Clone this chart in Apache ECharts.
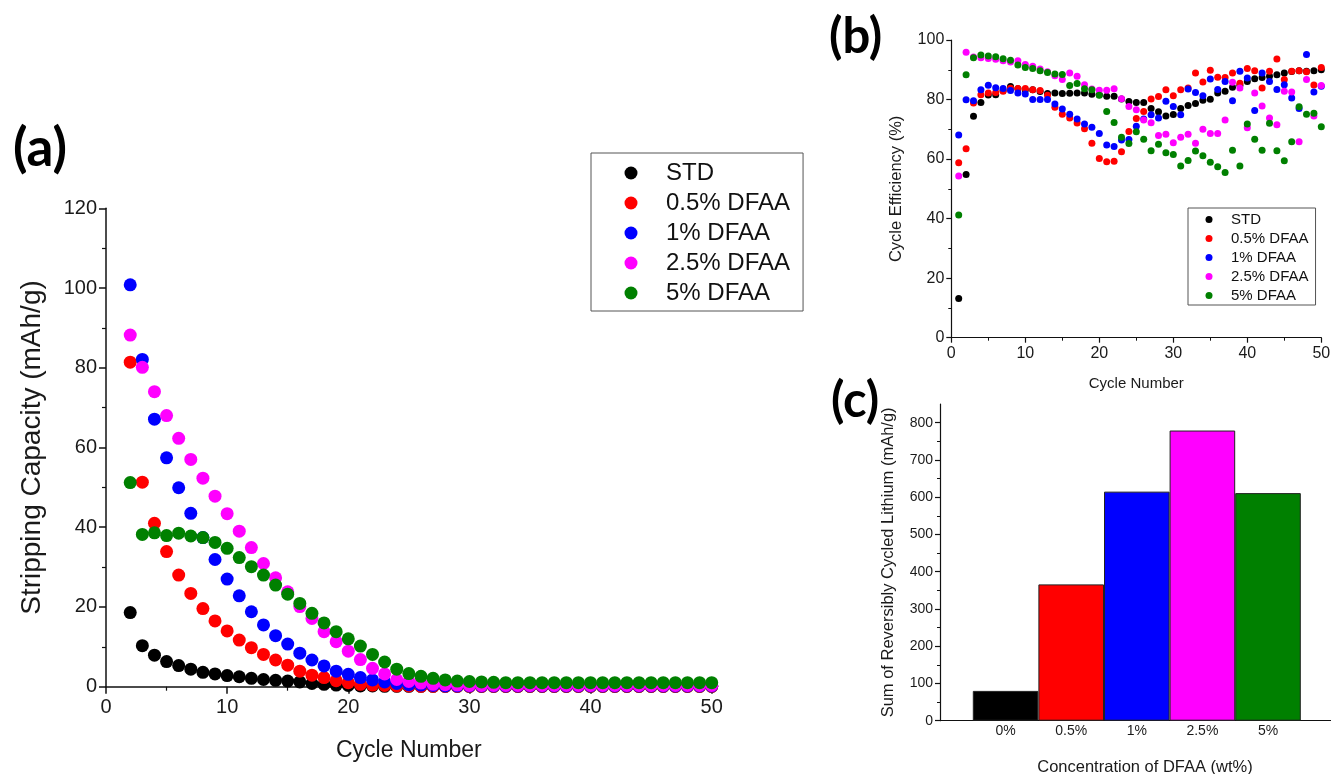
<!DOCTYPE html>
<html>
<head>
<meta charset="utf-8">
<title>DFAA cycling</title>
<script src="https://cdn.jsdelivr.net/npm/echarts@6/dist/echarts.min.js"></script>
<style>
  html, body { margin: 0; padding: 0; background: #fff; }
  #main { width: 1331px; height: 774px; }
</style>
</head>
<body>
<div id="main"></div>
<script>
// ---- series names ----
const seriesNames = ['STD', '0.5% DFAA', '1% DFAA', '2.5% DFAA', '5% DFAA'];

// ---- (a) stripping capacity, cycles 2-50 (mAh/g) ----
const cyclesA = [2, 3, 4, 5, 6, 7, 8, 9, 10, 11, 12, 13, 14, 15, 16, 17, 18, 19, 20, 21, 22, 23, 24, 25, 26,
  27, 28, 29, 30, 31, 32, 33, 34, 35, 36, 37, 38, 39, 40, 41, 42, 43, 44, 45, 46, 47, 48, 49, 50];
const capSTD = [18.6, 10.3, 7.9, 6.3, 5.3, 4.4, 3.6, 3.2, 2.8, 2.5, 2.1, 1.8, 1.6, 1.4, 1.2, 0.8, 0.6, 0.4, 0.3, 0.2,
  0.2, 0.1, 0.1, 0.1, 0.1, 0.1, 0.1, 0.1, 0.1, 0.1, 0.1, 0.1, 0.1, 0.1, 0.1, 0.1, 0.1, 0.1, 0.1, 0.1,
  0.1, 0.1, 0.1, 0.1, 0.1, 0.1, 0.1, 0.1, 0.1];
const cap05 = [81.4, 51.3, 41.0, 33.9, 28.0, 23.4, 19.6, 16.5, 14.0, 11.7, 9.8, 8.1, 6.7, 5.4, 3.9, 2.9, 2.3, 1.5, 1.0, 0.6,
  0.4, 0.3, 0.2, 0.2, 0.1, 0.1, 0.1, 0.1, 0.1, 0.1, 0.1, 0.1, 0.1, 0.1, 0.1, 0.1, 0.1, 0.1, 0.1, 0.1,
  0.1, 0.1, 0.1, 0.1, 0.1, 0.1, 0.1, 0.1, 0.1];
const cap1 = [100.8, 82.1, 67.1, 57.4, 49.9, 43.5, 37.4, 31.9, 27.0, 22.8, 18.8, 15.5, 12.8, 10.7, 8.4, 6.7, 5.2, 3.9, 3.1, 2.3,
  1.7, 1.2, 0.8, 0.5, 0.4, 0.3, 0.2, 0.2, 0.2, 0.2, 0.2, 0.2, 0.2, 0.2, 0.2, 0.2, 0.2, 0.2, 0.2, 0.2,
  0.2, 0.2, 0.2, 0.2, 0.2, 0.2, 0.2, 0.2, 0.2];
const cap25 = [88.2, 80.1, 74.0, 68.0, 62.3, 57.0, 52.3, 47.8, 43.4, 39.0, 34.9, 30.9, 27.3, 23.8, 20.1, 17.1, 13.8, 11.3, 8.9, 6.8,
  4.6, 3.2, 1.8, 1.3, 0.9, 0.6, 0.5, 0.4, 0.3, 0.3, 0.3, 0.3, 0.3, 0.3, 0.3, 0.3, 0.3, 0.3, 0.3, 0.3,
  0.3, 0.3, 0.3, 0.3, 0.3, 0.3, 0.3, 0.3, 0.3];
const cap5 = [51.2, 38.2, 38.6, 37.9, 38.5, 37.8, 37.4, 36.2, 34.7, 32.4, 30.1, 28.0, 25.5, 23.2, 20.9, 18.4, 16.0, 13.8, 12.0, 10.2,
  8.1, 6.2, 4.4, 3.3, 2.6, 2.1, 1.7, 1.4, 1.3, 1.2, 1.1, 1.0, 1.0, 1.0, 1.0, 1.0, 1.0, 1.0, 1.0, 1.0,
  1.0, 1.0, 1.0, 1.0, 1.0, 1.0, 1.0, 1.0, 1.0];

// ---- (b) cycle efficiency, cycles 1-50 (%) ----
const cyclesB = [1, 2, 3, 4, 5, 6, 7, 8, 9, 10, 11, 12, 13, 14, 15, 16, 17, 18, 19, 20, 21, 22, 23, 24, 25,
  26, 27, 28, 29, 30, 31, 32, 33, 34, 35, 36, 37, 38, 39, 40, 41, 42, 43, 44, 45, 46, 47, 48, 49, 50];
const effSTD = [13.2, 54.8, 74.4, 79.0, 81.5, 81.6, 83.0, 84.4, 83.6, 83.2, 83.3, 82.7, 82.0, 82.2, 82.0, 82.1, 82.2, 82.2, 81.8, 81.6,
  81.1, 81.1, 80.2, 79.3, 79.0, 79.0, 77.0, 75.9, 74.5, 75.0, 77.0, 78.0, 78.7, 79.8, 80.1, 82.2, 82.8, 84.1, 84.8, 86.1,
  87.0, 87.4, 87.8, 88.3, 88.9, 89.4, 89.7, 89.5, 89.7, 90.0];
const eff05 = [58.8, 63.5, 78.8, 81.6, 82.2, 82.4, 82.8, 83.8, 83.7, 83.7, 83.3, 83.0, 81.4, 77.4, 75.1, 73.8, 72.1, 70.2, 65.3, 60.2,
  59.1, 59.3, 62.5, 69.3, 73.6, 76.0, 80.2, 81.0, 83.3, 81.3, 83.3, 83.9, 88.9, 85.9, 89.8, 87.5, 87.4, 88.9, 85.5, 90.4,
  89.7, 83.9, 89.5, 93.6, 86.7, 89.5, 89.7, 89.3, 84.9, 90.8];
const eff1 = [68.1, 79.9, 79.6, 83.3, 84.8, 84.0, 83.7, 83.0, 82.2, 81.9, 80.0, 80.0, 80.0, 78.5, 76.8, 75.1, 73.5, 71.8, 70.7, 68.6,
  64.7, 64.2, 66.4, 66.6, 71.0, 73.5, 74.9, 73.8, 79.4, 77.7, 74.9, 83.5, 82.4, 81.3, 86.9, 83.4, 86.1, 79.6, 89.5, 87.2,
  76.3, 88.9, 86.1, 83.4, 85.0, 80.5, 77.0, 95.1, 82.5, 84.5];
const eff25 = [54.3, 95.9, 94.3, 94.0, 93.8, 93.5, 93.0, 92.6, 93.0, 91.8, 91.2, 90.3, 89.3, 88.0, 86.7, 88.9, 87.8, 85.0, 83.5, 83.1,
  83.1, 83.6, 80.3, 77.7, 76.6, 73.1, 72.2, 67.9, 68.3, 65.5, 67.3, 68.3, 65.3, 70.0, 68.6, 68.6, 73.1, 85.8, 83.9, 70.5,
  82.2, 77.8, 73.8, 71.5, 82.8, 82.5, 65.8, 86.7, 74.5, 84.7];
const eff5 = [41.2, 88.3, 94.0, 95.0, 94.6, 94.4, 93.7, 93.2, 91.6, 90.8, 90.4, 89.7, 89.1, 88.6, 88.4, 84.7, 85.4, 83.6, 83.3, 81.4,
  76.0, 72.3, 67.3, 65.2, 69.2, 66.7, 62.8, 65.0, 62.1, 61.5, 57.7, 59.5, 62.7, 61.1, 58.9, 57.4, 55.5, 63.0, 57.7, 71.8,
  66.7, 63.0, 72.0, 62.8, 59.4, 65.8, 77.6, 75.1, 75.4, 70.9];

// ---- (c) sum of reversibly cycled lithium (mAh/g) ----
const concLabels = ['0%', '0.5%', '1%', '2.5%', '5%'];
const concPos = [1, 2, 3, 4, 5];
const sumLithium = [80, 366, 615, 779, 611];

// ---- styling ----
const palette = ['#000000', '#ff0000', '#0000ff', '#ff00ff', '#008000'];
const FONT = '"Liberation Sans", Arial, sans-serif';
const AXIS_COLOR = '#111';

const capData = [capSTD, cap05, cap1, cap25, cap5];
const effData = [effSTD, eff05, eff1, eff25, eff5];

function axisCommon(o) {
  return Object.assign({
    type: 'value',
    splitLine: { show: false },
    axisLine: { show: true, onZero: false, lineStyle: { color: AXIS_COLOR, width: 1.5 } },
    axisTick: { show: true, inside: false, length: 7, lineStyle: { color: AXIS_COLOR, width: 1.5 } },
    minorTick: { show: true, splitNumber: 2, length: 4, lineStyle: { color: AXIS_COLOR, width: 1.2 } },
    nameLocation: 'middle',
    nameMoveOverlap: false
  }, o);
}

const series = [];
seriesNames.forEach((name, i) => {
  series.push({
    name: name, type: 'scatter', xAxisIndex: 0, yAxisIndex: 0,
    symbol: 'circle', symbolSize: 13,
    itemStyle: { color: palette[i], opacity: 1 },
    emphasis: { disabled: true },
    data: cyclesA.map((c, k) => [c, capData[i][k]])
  });
});
seriesNames.forEach((name, i) => {
  series.push({
    name: name, type: 'scatter', xAxisIndex: 1, yAxisIndex: 1,
    symbol: 'circle', symbolSize: 7,
    itemStyle: { color: palette[i], opacity: 1 },
    emphasis: { disabled: true },
    data: cyclesB.map((c, k) => [c, effData[i][k]])
  });
});
series.push({
  name: 'sum', type: 'bar', xAxisIndex: 2, yAxisIndex: 2,
  barWidth: '100%',
  emphasis: { disabled: true },
  data: concPos.map((p, k) => ({
    value: [p, sumLithium[k]],
    itemStyle: { color: palette[k], borderColor: '#222', borderWidth: 1 }
  }))
});

const option = {
  animation: false,
  textStyle: { fontFamily: FONT },
  title: [
    { text: '(a)', left: 8, top: 117, textStyle: { fontFamily: 'Lato', fontWeight: 'bold', fontSize: 53, color: '#000' } },
    { text: '(b)', left: 824, top: 8, textStyle: { fontFamily: 'Lato', fontWeight: 'bold', fontSize: 49, color: '#000' } },
    { text: '(c)', left: 826, top: 372, textStyle: { fontFamily: 'Lato', fontWeight: 'bold', fontSize: 49, color: '#000' } }
  ],
  legend: [
    {
      orient: 'vertical', left: 591, top: 153,
      padding: [8, 13, 6, 33.5],
      itemWidth: 60, itemHeight: 13, itemGap: 6,
      icon: 'circle',
      backgroundColor: '#fff', borderColor: '#555', borderWidth: 1,
      textStyle: { fontSize: 24, color: '#111', fontFamily: FONT },
      selectedMode: false,
      data: seriesNames
    },
    {
      orient: 'vertical', left: 1188, top: 208,
      padding: [4, 7, 2, 17.5],
      itemWidth: 34, itemHeight: 7, itemGap: 4,
      icon: 'circle',
      backgroundColor: '#fff', borderColor: '#555', borderWidth: 1,
      textStyle: { fontSize: 15, color: '#111', fontFamily: FONT },
      selectedMode: false,
      data: seriesNames
    }
  ],
  grid: [
    { left: 106, top: 208.3, width: 605.7, height: 478.4, outerBoundsMode: 'none', containLabel: false },
    { left: 951.3, top: 40, width: 370, height: 297.7, outerBoundsMode: 'none', containLabel: false },
    { left: 940, top: 404.1, width: 410, height: 316.6, outerBoundsMode: 'none', containLabel: false }
  ],
  xAxis: [
    axisCommon({
      gridIndex: 0, min: 0, max: 50, interval: 10,
      axisLabel: { fontSize: 20, color: '#1a1a1a', margin: 11 },
      name: 'Cycle Number', nameGap: 52,
      nameTextStyle: { fontSize: 23, color: '#1a1a1a' }
    }),
    axisCommon({
      gridIndex: 1, min: 0, max: 50, interval: 10,
      axisTick: { show: true, length: 5, lineStyle: { color: AXIS_COLOR, width: 1.2 } },
      minorTick: { show: true, splitNumber: 2, length: 3, lineStyle: { color: AXIS_COLOR, width: 1 } },
      axisLine: { show: true, onZero: false, lineStyle: { color: AXIS_COLOR, width: 1.2 } },
      axisLabel: { fontSize: 16, color: '#1a1a1a', margin: 8 },
      name: 'Cycle Number', nameGap: 39,
      nameTextStyle: { fontSize: 15, color: '#1a1a1a' }
    }),
    axisCommon({
      gridIndex: 2, min: 0, max: 6.25, interval: 1,
      axisTick: { show: false },
      minorTick: { show: false },
      axisLine: { show: true, onZero: false, lineStyle: { color: AXIS_COLOR, width: 1.2 } },
      axisLabel: {
        fontSize: 14, color: '#1a1a1a', margin: 3,
        formatter: v => {
          const k = concPos.indexOf(v);
          return k >= 0 ? concLabels[k] : '';
        }
      },
      name: 'Concentration of DFAA (wt%)', nameGap: 38,
      nameTextStyle: { fontSize: 16.5, color: '#1a1a1a' }
    })
  ],
  yAxis: [
    axisCommon({
      gridIndex: 0, min: 0, max: 120, interval: 20,
      axisLabel: { fontSize: 20, color: '#1a1a1a', margin: 9 },
      name: 'Stripping Capacity (mAh/g)', nameGap: 60,
      nameTextStyle: { fontSize: 28, color: '#1a1a1a' }
    }),
    axisCommon({
      gridIndex: 1, min: 0, max: 100, interval: 20,
      axisTick: { show: true, length: 5, lineStyle: { color: AXIS_COLOR, width: 1.2 } },
      minorTick: { show: true, splitNumber: 2, length: 3, lineStyle: { color: AXIS_COLOR, width: 1 } },
      axisLine: { show: true, onZero: false, lineStyle: { color: AXIS_COLOR, width: 1.2 } },
      axisLabel: { fontSize: 16, color: '#1a1a1a', margin: 7 },
      name: 'Cycle Efficiency (%)', nameGap: 46,
      nameTextStyle: { fontSize: 16.5, color: '#1a1a1a' }
    }),
    axisCommon({
      gridIndex: 2, min: 0, max: 850, interval: 100,
      axisTick: { show: true, length: 5, lineStyle: { color: AXIS_COLOR, width: 1.2 },
        customValues: [0, 100, 200, 300, 400, 500, 600, 700, 800] },
      minorTick: { show: true, splitNumber: 2, length: 3, lineStyle: { color: AXIS_COLOR, width: 1 } },
      axisLine: { show: true, onZero: false, lineStyle: { color: AXIS_COLOR, width: 1.2 } },
      axisLabel: {
        fontSize: 14, color: '#1a1a1a', margin: 7,
        customValues: [0, 100, 200, 300, 400, 500, 600, 700, 800],
        formatter: v => (v % 100 === 0 && v <= 800) ? String(v) : ''
      },
      name: 'Sum of Reversibly Cycled Lithium (mAh/g)', nameGap: 43,
      nameTextStyle: { fontSize: 16.5, color: '#1a1a1a' }
    })
  ],
  series: series
};

const chart = echarts.init(document.getElementById('main'), null, { renderer: 'canvas' });
chart.setOption(option);
</script>
</body>
</html>
